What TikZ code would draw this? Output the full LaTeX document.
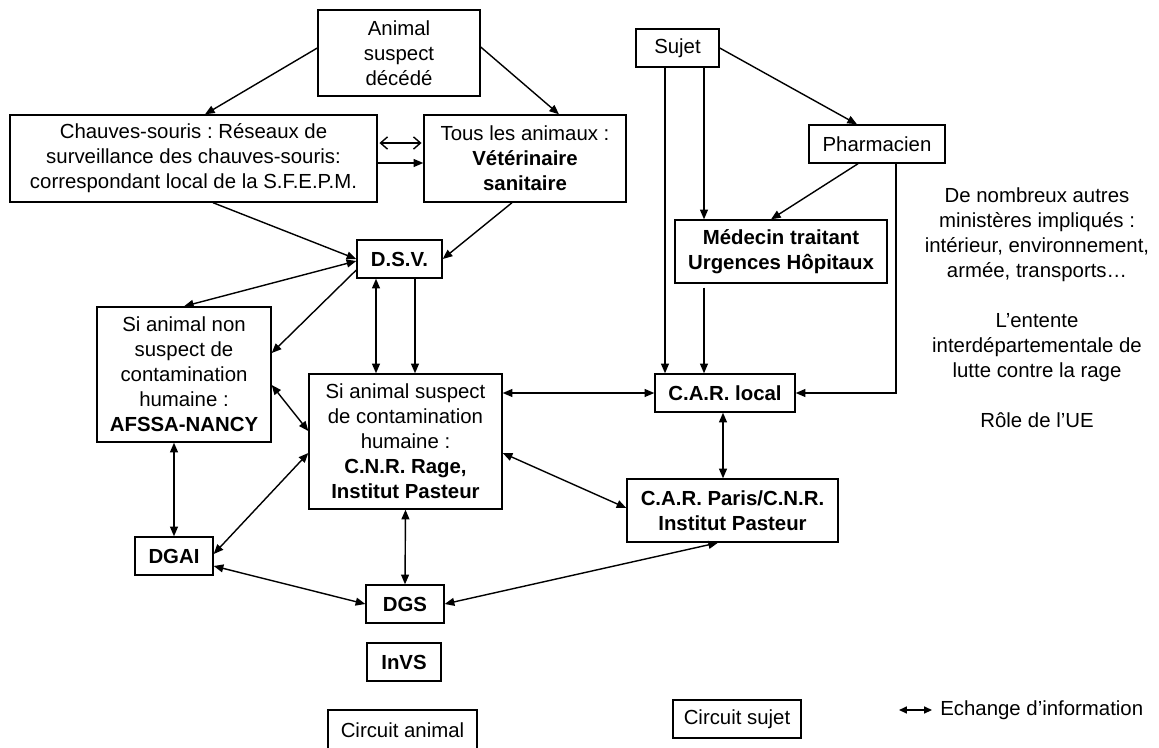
\documentclass[tikz,border=0pt]{standalone}
\usepackage{fontspec}
\setmainfont{Liberation Sans}
\usetikzlibrary{arrows.meta}
\frenchspacing

\newcommand{\unite}{0.02cm}
\newcommand{\taille}{\fontsize{11.6pt}{14.2pt}\selectfont}
\tikzset{
    boite/.style 2 args={draw, line width=0.8pt, align=center, inner sep=1pt,
            minimum width=#1*\unite, minimum height=#2*\unite},
    gras/.style={font=\taille\bfseries},
    fleche/.style={line width=0.8pt, -{Triangle[length=5.5pt,width=4.5pt]}},
    dfleche/.style={line width=0.8pt,
            {Triangle[length=5.5pt,width=4.5pt]}-{Triangle[length=5.5pt,width=4.5pt]}},
    ouverte/.style={line width=0.8pt, shorten <=1pt, shorten >=1pt,
            {Straight Barb[length=4pt,width=7pt]}-{Straight Barb[length=4pt,width=7pt]}},
}

\begin{document}
\begin{tikzpicture}[x=\unite, y=-\unite, font=\taille]
        \useasboundingbox (0,0) rectangle (1159,747);

        % circuit animal
        \node[boite={162}{86}] (animal) at (399,53) {Animal\\suspect\\décédé};
        \node[boite={367}{87}] (chauves) at (193.5,158.5)
        {Chauves-souris : Réseaux de\\surveillance des chauves-souris:\\correspondant local de la S.F.E.P.M.};
        \node[boite={202}{87}] (tous) at (525,158.5)
        {Tous les animaux :\\\textbf{Vétérinaire}\\\textbf{sanitaire}};
        \node[boite={85}{38}, gras] (dsv) at (399.5,259) {D.S.V.};
        \node[boite={174}{135}] (afssa) at (184,374.5)
        {Si animal non\\suspect de\\contamination\\humaine :\\\textbf{AFSSA-NANCY}};
        \node[boite={193}{135}] (cnr) at (405.5,441.5)
        {Si animal suspect\\de contamination\\humaine :\\\textbf{C.N.R. Rage,}\\\textbf{Institut Pasteur}};
        \node[boite={78}{38}, gras] (dgai) at (174,556) {DGAI};
        \node[boite={78}{38}, gras] (dgs) at (405,604) {DGS};
        \node[boite={74}{38}, gras] (invs) at (404,662) {InVS};

        % circuit sujet
        \node[boite={83}{38}] (sujet) at (677.5,48) {Sujet};
        \node[boite={136}{38}] (pharma) at (877,144) {Pharmacien};
        \node[boite={212}{63}, gras] (medecin) at (781,251.5) {Médecin traitant\\Urgences Hôpitaux};
        \node[boite={140}{38}, gras] (carlocal) at (725,393) {C.A.R. local};
        \node[boite={211}{63}, gras] (carparis) at (732.5,510.5) {C.A.R. Paris/C.N.R.\\Institut Pasteur};

        \node[align=center] (autres) at (1037,307.5)
        {De nombreux autres\\ministères impliqués :\\intérieur, environnement,\\armée, transports…\\[14.2pt]
            L’entente\\interdépartementale de\\lutte contre la rage\\[14.2pt]Rôle de l’UE};

        % legende
        \begin{scope}
            \clip (0,0) rectangle (1159,747);
            \node[boite={149}{40}] (circanimal) at (402.5,730) {Circuit animal};
        \end{scope}
        \node[boite={128}{38}] (circsujet) at (737,719) {Circuit sujet};
        \node[anchor=west, inner sep=0pt] (echange) at (940,710) {Echange d’information};
        \coordinate (legende) at (899,710);
        \draw[line width=0.8pt, {Triangle[length=4.5pt,width=4pt]}-{Triangle[length=4.5pt,width=4pt]}]
        (legende) -- ([xshift=-8*\unite]echange.west);

        % fleches animal
        \draw[fleche] ([yshift=5*\unite]animal.west) -- ([xshift=11.5*\unite]chauves.north);
        \draw[fleche] ([yshift=6*\unite]animal.east) -- ([xshift=34*\unite]tous.north);
        \draw[ouverte] ([yshift=15.5*\unite]chauves.east) -- ([yshift=15.5*\unite]tous.west);
        \draw[fleche] ([yshift=-4.5*\unite]chauves.east) -- ([yshift=-4.5*\unite]tous.west);
        \draw[fleche] ([xshift=19.5*\unite]chauves.south) -- (dsv.west);
        \draw[fleche] ([xshift=-13*\unite]tous.south) -- (dsv.east);
        \draw[dfleche] ([yshift=-2*\unite]dsv.west) -- (afssa.north);
        \draw[fleche] ([yshift=-11*\unite]dsv.west) -- ([yshift=21.5*\unite]afssa.east);
        \draw[dfleche] ([xshift=-23.5*\unite]dsv.south) -- ([xshift=-23.5*\unite]dsv.south |- cnr.north);
        \draw[fleche] ([xshift=15.5*\unite]dsv.south) -- ([xshift=15.5*\unite]dsv.south |- cnr.north);
        \draw[dfleche] ([yshift=-10.5*\unite]afssa.east) -- ([yshift=10.5*\unite]cnr.west);
        \draw[dfleche] ([xshift=-10*\unite]afssa.south) -- (dgai.north);
        \draw[dfleche] ([yshift=2*\unite]dgai.east) -- ([yshift=-11.5*\unite]cnr.west);
        \draw[dfleche] ([yshift=-10*\unite]dgai.east) -- (dgs.west);
        \draw[dfleche] (cnr.south) -- (dgs.north);
        \draw[dfleche] (dgs.east) -- ([xshift=-14.5*\unite]carparis.south);
        \draw[dfleche] ([yshift=48.5*\unite]cnr.east) -- (carlocal.west);
        \draw[dfleche] ([yshift=-11.5*\unite]cnr.east) -- ([yshift=2.5*\unite]carparis.west);

        % fleches sujet
        \draw[fleche] (sujet.east) -- ([xshift=-20*\unite]pharma.north);
        \draw[fleche] ([xshift=-12.5*\unite]sujet.south) -- ([xshift=-12.5*\unite]sujet.south |- carlocal.north);
        \draw[fleche] ([xshift=26.5*\unite]sujet.south) -- ([xshift=26.5*\unite]sujet.south |- medecin.north);
        \draw[fleche] ([xshift=-19*\unite]pharma.south) -- ([xshift=-10*\unite]medecin.north);
        \draw[fleche] ([xshift=19*\unite]pharma.south) |- (carlocal.east);
        \draw[fleche] ([xshift=-77*\unite, yshift=-4*\unite]medecin.south) -- ([xshift=-77*\unite]medecin.south |- carlocal.north);
        \draw[dfleche] ([xshift=-2*\unite]carlocal.south) -- ([xshift=-2*\unite]carlocal.south |- carparis.north);
    \end{tikzpicture}
\end{document}
